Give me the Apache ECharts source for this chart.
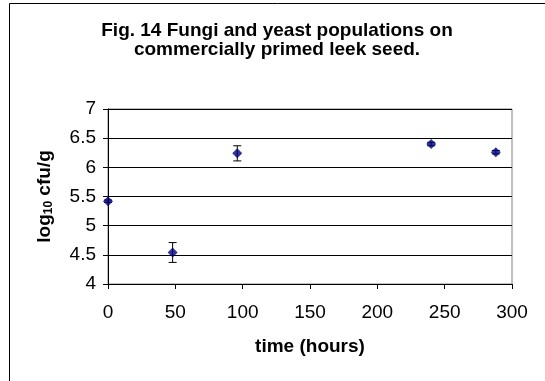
<!DOCTYPE html>
<html>
<head>
<meta charset="utf-8">
<script src="https://cdn.jsdelivr.net/npm/echarts@6/dist/echarts.min.js"></script>
<style>
html,body{margin:0;padding:0;background:#fff;}
#c{width:545px;height:381px;}
</style>
</head>
<body>
<div id="c"></div>
<script>
// Data
const times = [0, 48, 96, 240, 288];
const means = [5.42, 4.54, 6.24, 6.40, 6.26];
const errors = [0.02, 0.17, 0.13, 0.03, 0.03];
const titleLines = ['Fig. 14 Fungi and yeast populations on', 'commercially primed leek seed.'];
const xName = 'time (hours)';

const chart = echarts.init(document.getElementById('c'), null, {renderer: 'canvas'});
const font = 'Liberation Sans, Arial, sans-serif';

const pointData = times.map((t, i) => [t, means[i]]);
const errData = times.map((t, i) => [t, means[i] - errors[i], means[i] + errors[i]]);

chart.setOption({
  animation: false,
  backgroundColor: '#fff',
  textStyle: {fontFamily: font},
  graphic: [
    {type: 'rect', shape: {x: 9.5, y: 3.5, width: 600, height: 500}, style: {fill: 'none', stroke: '#000', lineWidth: 1}, silent: true, z: 100},
    {type: 'text', x: 277, y: 21, style: {text: titleLines.join('\n'), fontFamily: font, fontSize: 19, fontWeight: 'bold', fill: '#000', align: 'center', verticalAlign: 'top', lineHeight: 19}}
  ],
  grid: {left: 108, right: 33, top: 109, bottom: 97, outerBoundsMode: 'none', containLabel: false, show: true, borderColor: '#808080', borderWidth: 1, backgroundColor: 'transparent'},
  xAxis: {
    type: 'value', min: 0, max: 300, interval: 50,
    name: xName, nameLocation: 'middle', nameGap: 53,
    nameTextStyle: {fontSize: 19, fontWeight: 'bold', color: '#000', fontFamily: font},
    axisLine: {show: true, lineStyle: {color: '#000', width: 1}},
    axisTick: {show: true, length: 5, lineStyle: {color: '#000'}},
    axisLabel: {fontSize: 19, color: '#000', margin: 19, fontFamily: font},
    splitLine: {show: false}
  },
  yAxis: {
    type: 'value', min: 4, max: 7, interval: 0.5,
    name: '{a|log}{b|10}{a| cfu/g}', nameLocation: 'middle', nameGap: 53,
    nameTextStyle: {
      color: '#000',
      rich: {
        a: {fontSize: 19, fontWeight: 'bold', fontFamily: font, color: '#000', lineHeight: 21},
        b: {fontSize: 12, fontWeight: 'bold', fontFamily: font, color: '#000', verticalAlign: 'bottom', lineHeight: 13}
      }
    },
    axisLine: {show: true, lineStyle: {color: '#000', width: 1}},
    axisTick: {show: true, length: 5, lineStyle: {color: '#000'}},
    axisLabel: {fontSize: 19, color: '#000', margin: 12, fontFamily: font},
    splitLine: {show: true, lineStyle: {color: '#000', width: 1}}
  },
  series: [
    {
      type: 'custom',
      data: errData,
      z: 3,
      renderItem: function (params, api) {
        const x = api.value(0);
        const lo = api.coord([x, api.value(1)]);
        const hi = api.coord([x, api.value(2)]);
        const w = 4;
        const st = {stroke: '#000', lineWidth: 1};
        return {
          type: 'group',
          children: [
            {type: 'line', shape: {x1: lo[0], y1: lo[1], x2: hi[0], y2: hi[1]}, style: st},
            {type: 'line', shape: {x1: lo[0] - w, y1: lo[1], x2: lo[0] + w, y2: lo[1]}, style: st},
            {type: 'line', shape: {x1: hi[0] - w, y1: hi[1], x2: hi[0] + w, y2: hi[1]}, style: st}
          ]
        };
      }
    },
    {
      type: 'scatter',
      data: pointData,
      symbol: 'diamond',
      symbolSize: [10, 10],
      itemStyle: {color: '#000080'},
      z: 4
    }
  ]
});
</script>
</body>
</html>
